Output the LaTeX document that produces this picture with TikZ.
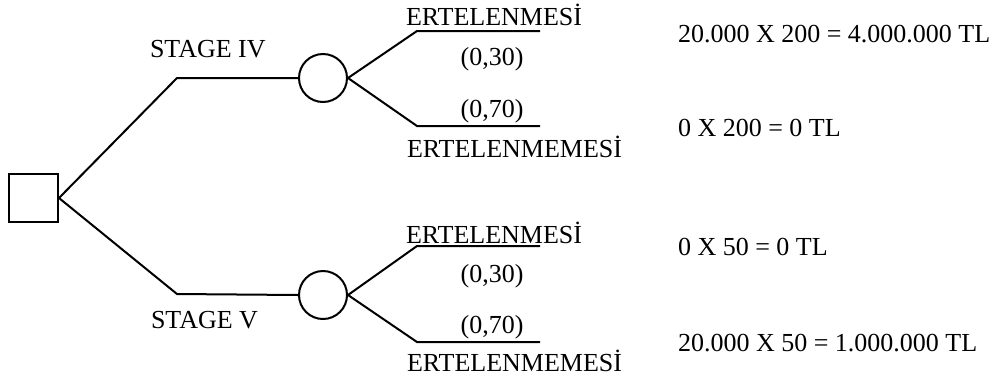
\documentclass[tikz,border=0pt]{standalone}
\usepackage{fontspec}
\setmainfont{Liberation Serif}
\begin{document}
\begin{tikzpicture}[x=1pt,y=-1pt,line width=2pt,
  txt/.style={inner sep=0pt,font=\fontsize{26}{30}\selectfont},
  lbl/.style={txt,anchor=base west},
  prob/.style={txt,anchor=base},
  decision/.style={draw,rectangle,minimum width=49pt,minimum height=48pt,inner sep=0pt},
  chance/.style={draw,circle,minimum size=48pt,inner sep=0pt}]
\useasboundingbox (0,0) rectangle (999,376);

% decision node and the two chance nodes
\node[decision] (sq) at (33.5,198) {};
\node[chance] (c1) at (323,78) {};
\node[chance] (c2) at (323,295) {};

% bends and leaf ends of the branches
\coordinate (k1) at (177,78);
\coordinate (k2) at (177,294);
\coordinate (a1) at (417,31);  \coordinate (a2) at (540,31);
\coordinate (b1) at (417,126); \coordinate (b2) at (540,126);
\coordinate (d1) at (417,246); \coordinate (d2) at (540,246);
\coordinate (e1) at (417,342); \coordinate (e2) at (540,342);

% branches
\draw (sq.east) -- (k1) -- (c1.west);
\draw (sq.east) -- (k2) -- (c2.west);
\draw (c1.east) -- (a1) -- (a2);
\draw (c1.east) -- (b1) -- (b2);
\draw (c2.east) -- (d1) -- (d2);
\draw (c2.east) -- (e1) -- (e2);

% branch labels
\node[lbl] (s4) at (149,57) {STAGE IV};
\node[lbl] (s5) at (150,328) {STAGE V};
\node[lbl] (u1) at (405,25) {ERTELENMESİ};
\node[prob] (p1) at (492,65) {(0,30)};
\node[prob] (p2) at (492,117) {(0,70)};
\node[lbl] (u2) at (406,157) {ERTELENMEMESİ};
\node[lbl] (l1) at (405,243) {ERTELENMESİ};
\node[prob] (p3) at (492,282) {(0,30)};
\node[prob] (p4) at (492,333) {(0,70)};
\node[lbl] (l2) at (406,371) {ERTELENMEMESİ};

% payoffs
\node[lbl] (r1) at (677,42) {20.000 X 200 = 4.000.000 TL};
\node[lbl] (r2) at (677,136) {0 X 200 = 0 TL};
\node[lbl] (r3) at (677,255) {0 X 50 = 0 TL};
\node[lbl] (r4) at (677,351) {20.000 X 50 = 1.000.000 TL};
\end{tikzpicture}
\end{document}
